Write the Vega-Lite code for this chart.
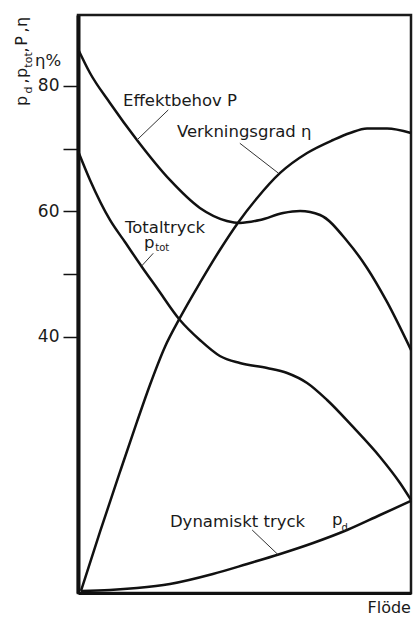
{
  "$schema": "https://vega.github.io/schema/vega-lite/v6.json",
  "width": 333,
  "height": 578,
  "autosize": {"type": "none"},
  "padding": {"left": 78, "top": 15, "right": 3, "bottom": 24},
  "background": "white",
  "config": {
    "view": {"stroke": "#1a1a1a", "strokeWidth": 2.5},
    "axis": {"grid": false},
    "font": "DejaVu Sans"
  },
  "datasets": {
    "curves": [
      {"series": "P", "x": 0, "y": 85.9},
      {"series": "P", "x": 3.6, "y": 82.07},
      {"series": "P", "x": 9.6, "y": 77.29},
      {"series": "P", "x": 17.7, "y": 71.39},
      {"series": "P", "x": 27.6, "y": 65.02},
      {"series": "P", "x": 36.6, "y": 60.56},
      {"series": "P", "x": 44.7, "y": 58.49},
      {"series": "P", "x": 48.6, "y": 58.17},
      {"series": "P", "x": 54.7, "y": 58.65},
      {"series": "P", "x": 61.6, "y": 59.76},
      {"series": "P", "x": 66.7, "y": 60.08},
      {"series": "P", "x": 72.7, "y": 59.44},
      {"series": "P", "x": 80.8, "y": 55.3},
      {"series": "P", "x": 86.8, "y": 51.0},
      {"series": "P", "x": 92.8, "y": 45.58},
      {"series": "P", "x": 100, "y": 37.93},
      {"series": "ptot", "x": 0, "y": 69.64},
      {"series": "ptot", "x": 3.6, "y": 65.02},
      {"series": "ptot", "x": 9.6, "y": 58.65},
      {"series": "ptot", "x": 14.1, "y": 55.14},
      {"series": "ptot", "x": 19.2, "y": 51.16},
      {"series": "ptot", "x": 23.7, "y": 47.81},
      {"series": "ptot", "x": 30.6, "y": 42.71},
      {"series": "ptot", "x": 36.6, "y": 39.52},
      {"series": "ptot", "x": 42.6, "y": 36.97},
      {"series": "ptot", "x": 48.6, "y": 35.86},
      {"series": "ptot", "x": 56.8, "y": 35.06},
      {"series": "ptot", "x": 62.8, "y": 34.26},
      {"series": "ptot", "x": 68.8, "y": 32.67},
      {"series": "ptot", "x": 74.8, "y": 29.96},
      {"series": "ptot", "x": 82.6, "y": 25.66},
      {"series": "ptot", "x": 90.7, "y": 20.88},
      {"series": "ptot", "x": 96.7, "y": 16.73},
      {"series": "ptot", "x": 100, "y": 14.03},
      {"series": "eta", "x": 0.9, "y": -0.48},
      {"series": "eta", "x": 6.6, "y": 8.93},
      {"series": "eta", "x": 12.6, "y": 18.49},
      {"series": "eta", "x": 17.7, "y": 26.46},
      {"series": "eta", "x": 21.6, "y": 32.35},
      {"series": "eta", "x": 26.1, "y": 38.41},
      {"series": "eta", "x": 30.6, "y": 43.03},
      {"series": "eta", "x": 36.6, "y": 48.61},
      {"series": "eta", "x": 42.6, "y": 53.86},
      {"series": "eta", "x": 48.0, "y": 58.17},
      {"series": "eta", "x": 53.8, "y": 62.15},
      {"series": "eta", "x": 60.7, "y": 66.14},
      {"series": "eta", "x": 68.8, "y": 69.32},
      {"series": "eta", "x": 76.6, "y": 71.39},
      {"series": "eta", "x": 81.7, "y": 72.51},
      {"series": "eta", "x": 86.8, "y": 73.23},
      {"series": "eta", "x": 92.8, "y": 73.23},
      {"series": "eta", "x": 100, "y": 72.51},
      {"series": "pd", "x": 0.9, "y": -0.48},
      {"series": "pd", "x": 9.6, "y": -0.32},
      {"series": "pd", "x": 17.7, "y": 0.0},
      {"series": "pd", "x": 27.6, "y": 0.64},
      {"series": "pd", "x": 40.5, "y": 2.23},
      {"series": "pd", "x": 50.8, "y": 3.83},
      {"series": "pd", "x": 60.7, "y": 5.42},
      {"series": "pd", "x": 70.6, "y": 7.17},
      {"series": "pd", "x": 80.8, "y": 9.24},
      {"series": "pd", "x": 90.7, "y": 11.63},
      {"series": "pd", "x": 100, "y": 13.87}
    ],
    "leaders": [
      {"x": 17.7, "y": 71.39, "x2": 27.1, "y2": 76.18},
      {"x": 48.6, "y": 70.87, "x2": 60.1, "y2": 66.14},
      {"x": 19.1, "y": 51.31, "x2": 22.6, "y2": 53.34},
      {"x": 52.3, "y": 9.24, "x2": 60.1, "y2": 5.3}
    ],
    "labels": [
      {"x": 13.5, "y": 76.81, "text": "Effektbehov P"},
      {"x": 29.7, "y": 71.92, "text": "Verkningsgrad η"},
      {"x": 14.1, "y": 56.53, "text": "Totaltryck"},
      {"x": 19.8, "y": 54.18, "text": "p"},
      {"x": 27.6, "y": 9.72, "text": "Dynamiskt tryck"},
      {"x": 76.3, "y": 10.04, "text": "p"},
      {"x": -12.9, "y": 83.19, "text": "η%"}
    ],
    "subscripts": [
      {"x": 23.2, "y": 53.71, "text": "tot"},
      {"x": 79.1, "y": 9.08, "text": "d"}
    ],
    "titleMain": [
      {"x": -15.3, "y": 77.61, "text": "p"},
      {"x": -15.3, "y": 80.8, "text": ","},
      {"x": -15.3, "y": 82.07, "text": "p"},
      {"x": -15.3, "y": 85.74, "text": ","},
      {"x": -15.3, "y": 87.17, "text": "P"},
      {"x": -15.3, "y": 88.92, "text": ","},
      {"x": -15.3, "y": 90.2, "text": "η"}
    ],
    "titleSub": [
      {"x": -13.8, "y": 79.36, "text": "d"},
      {"x": -13.8, "y": 84.14, "text": "tot"}
    ]
  },
  "encoding": {
    "x": {
      "field": "x",
      "type": "quantitative",
      "scale": {"domain": [0, 100], "nice": false, "zero": false},
      "axis": {
        "labels": false,
        "ticks": false,
        "grid": false,
        "domainWidth": 3,
        "domainColor": "#111",
        "title": "Flöde",
        "titleX": 289,
        "titleY": 19,
        "titleAlign": "left",
        "titleBaseline": "alphabetic",
        "titleAngle": 0,
        "titleFont": "DejaVu Sans",
        "titleFontSize": 16,
        "titleFontWeight": "normal",
        "titleColor": "#1a1a1a"
      }
    },
    "y": {
      "field": "y",
      "type": "quantitative",
      "scale": {"domain": [-0.8, 91.31], "nice": false, "zero": false},
      "axis": {
        "values": [40, 50, 60, 70, 80],
        "labelExpr": "datum.value == 50 || datum.value == 70 ? '' : datum.label",
        "title": null,
        "grid": false,
        "domainWidth": 4,
        "domainColor": "#111",
        "tickColor": "#111",
        "tickWidth": 1.5,
        "tickSize": 15,
        "labelPadding": 4,
        "labelFont": "DejaVu Sans",
        "labelFontSize": 17,
        "labelColor": "#1a1a1a"
      }
    }
  },
  "layer": [
    {
      "data": {"name": "curves"},
      "mark": {"type": "line", "interpolate": "monotone", "color": "#111", "strokeWidth": 2.5},
      "encoding": {"detail": {"field": "series"}}
    },
    {
      "data": {"name": "leaders"},
      "mark": {"type": "rule", "color": "#333", "strokeWidth": 1},
      "encoding": {"x2": {"field": "x2"}, "y2": {"field": "y2"}}
    },
    {
      "data": {"name": "labels"},
      "mark": {"type": "text", "align": "left", "baseline": "alphabetic", "fontSize": 16.5, "color": "#1a1a1a", "font": "DejaVu Sans"},
      "encoding": {"text": {"field": "text"}}
    },
    {
      "data": {"name": "subscripts"},
      "mark": {"type": "text", "align": "left", "baseline": "alphabetic", "fontSize": 10, "color": "#1a1a1a", "font": "DejaVu Sans"},
      "encoding": {"text": {"field": "text"}}
    },
    {
      "data": {"name": "titleMain"},
      "mark": {"type": "text", "align": "center", "baseline": "alphabetic", "angle": 270, "fontSize": 16, "color": "#1a1a1a", "font": "DejaVu Sans"},
      "encoding": {"text": {"field": "text"}}
    },
    {
      "data": {"name": "titleSub"},
      "mark": {"type": "text", "align": "center", "baseline": "alphabetic", "angle": 270, "fontSize": 11, "color": "#1a1a1a", "font": "DejaVu Sans"},
      "encoding": {"text": {"field": "text"}}
    }
  ]
}
